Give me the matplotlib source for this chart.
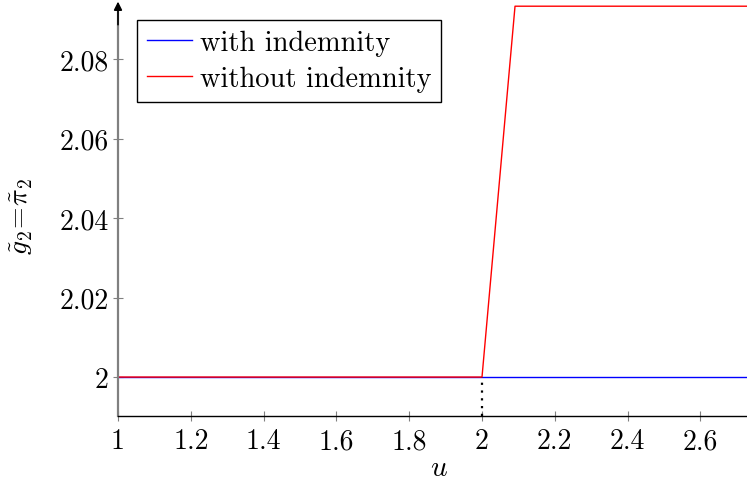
import matplotlib.pyplot as plt

# data
u_with = [1.0, 2.728]
g_with = [2.0, 2.0]
u_without = [1.0, 2.0, 2.0907, 2.728]
g_without = [2.0, 2.0, 2.0933, 2.0933]
x_ticks = [1, 1.2, 1.4, 1.6, 1.8, 2, 2.2, 2.4, 2.6]
x_labels = ['1', '1.2', '1.4', '1.6', '1.8', '2', '2.2', '2.4', '2.6']
y_ticks = [2.0, 2.02, 2.04, 2.06, 2.08]
y_labels = ['2', '2.02', '2.04', '2.06', '2.08']

plt.rcParams['font.family'] = 'serif'
plt.rcParams['font.serif'] = ['cmr10', 'DejaVu Serif']
plt.rcParams['mathtext.fontset'] = 'cm'

fig = plt.figure(figsize=(7.47, 4.81), dpi=100)
ax = fig.add_axes([118 / 747, 64 / 481, 629 / 747, 409 / 481])

ax.plot(u_with, g_with, color='blue', lw=1.0, label='with indemnity')
ax.plot(u_without, g_without, color='red', lw=1.0, label='without indemnity',
        clip_on=False)
ax.plot([2, 2], [1.9902, 2.0], color='black', lw=1.6, ls=(0, (1, 2.5)))

ax.set_xlim(1, 2.728)
ax.set_ylim(1.9902, 2.0931)

ax.spines['top'].set_visible(False)
ax.spines['right'].set_visible(False)
ax.spines['left'].set_color('#808080')
ax.spines['left'].set_linewidth(1.6)
ax.spines['bottom'].set_linewidth(1.0)

# arrow at top of the y axis
ax.annotate('', xy=(0, 1.02), xytext=(0, 0.95), xycoords='axes fraction',
            arrowprops=dict(arrowstyle='-|>', color='black', lw=1.2,
                            mutation_scale=12))

ax.set_xticks(x_ticks)
ax.set_xticklabels(x_labels)
ax.set_yticks(y_ticks)
ax.set_yticklabels(y_labels)
ax.tick_params(direction='inout', length=7, width=0.8, color='#808080',
               labelsize=20, pad=3)
ax.tick_params(axis='x', pad=5)

ax.set_xlabel('$u$', fontsize=21)
ax.xaxis.set_label_coords(0.51, -0.095)
ax.set_ylabel(r'$\tilde{g}_2\!=\!\tilde{\pi}_2$', fontsize=20)
ax.yaxis.set_label_coords(-0.132, 0.49)

leg = ax.legend(loc='upper left', bbox_to_anchor=(0.03, 0.968), fontsize=20.5,
                fancybox=False, edgecolor='black', framealpha=1,
                handlelength=1.6, handletextpad=0.25, borderpad=0.35,
                labelspacing=0.33, borderaxespad=0)
leg.get_frame().set_linewidth(1.0)

fig.savefig('out.png', dpi=100)
